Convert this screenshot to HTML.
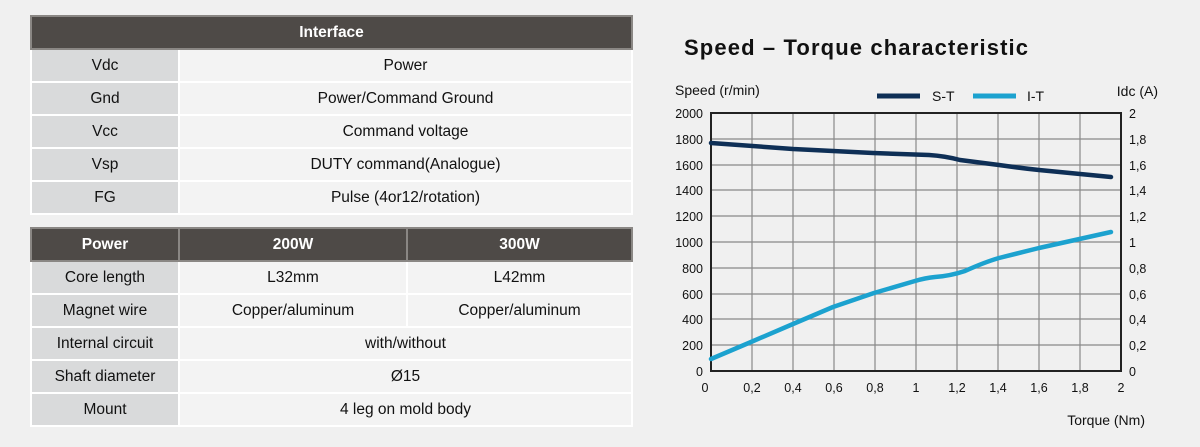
<!DOCTYPE html>
<html><head><meta charset="utf-8"><style>
body{margin:0;width:1200px;height:447px;background:#f0f0f0;font-family:"Liberation Sans",sans-serif;overflow:hidden;position:relative}
table{position:absolute;left:30px;border-collapse:collapse;width:603px;table-layout:fixed;border:1.5px solid #7a7a7a;font-size:15.5px;color:#111}
td,th{text-align:center;border:2px solid #fff;padding:0;height:31px}
th{background:#4e4a47;color:#fff;font-weight:bold;border-color:#8a8784}
td.l{background:#d9dadb}
td.v{background:#f3f3f3}
</style></head><body>
<table style="top:15px">
<colgroup><col style="width:148px"><col></colgroup>
<tr><th colspan="2" style="height:31px">Interface</th></tr>
<tr><td class="l">Vdc</td><td class="v">Power</td></tr>
<tr><td class="l">Gnd</td><td class="v">Power/Command Ground</td></tr>
<tr><td class="l">Vcc</td><td class="v">Command voltage</td></tr>
<tr><td class="l">Vsp</td><td class="v">DUTY command(Analogue)</td></tr>
<tr><td class="l">FG</td><td class="v">Pulse (4or12/rotation)</td></tr>
</table>
<table style="top:227px">
<colgroup><col style="width:148px"><col style="width:228px"><col></colgroup>
<tr><th>Power</th><th>200W</th><th>300W</th></tr>
<tr><td class="l">Core length</td><td class="v">L32mm</td><td class="v">L42mm</td></tr>
<tr><td class="l">Magnet wire</td><td class="v">Copper/aluminum</td><td class="v">Copper/aluminum</td></tr>
<tr><td class="l">Internal circuit</td><td class="v" colspan="2">with/without</td></tr>
<tr><td class="l">Shaft diameter</td><td class="v" colspan="2">Ø15</td></tr>
<tr><td class="l">Mount</td><td class="v" colspan="2">4 leg on mold body</td></tr>
</table>
<svg width="1200" height="447" style="position:absolute;left:0;top:0" font-family="Liberation Sans, sans-serif">
<text x="684" y="55" font-size="22" font-weight="bold" fill="#111" textLength="344" lengthAdjust="spacing">Speed – Torque characteristic</text>
<text x="675" y="95" font-size="14" fill="#111">Speed (r/min)</text>
<text x="1158" y="96" font-size="14" fill="#111" text-anchor="end">Idc (A)</text>
<line x1="877" y1="96" x2="920" y2="96" stroke="#0e2f56" stroke-width="5"/>
<text x="932" y="101" font-size="14" fill="#111">S-T</text>
<line x1="973" y1="96" x2="1016" y2="96" stroke="#1ca2cf" stroke-width="5"/>
<text x="1027" y="101" font-size="14" fill="#111">I-T</text>
<g stroke="#888" stroke-width="1.2">
<line x1="752" y1="113" x2="752" y2="371"/><line x1="793" y1="113" x2="793" y2="371"/><line x1="834" y1="113" x2="834" y2="371"/><line x1="875" y1="113" x2="875" y2="371"/><line x1="916" y1="113" x2="916" y2="371"/><line x1="957" y1="113" x2="957" y2="371"/><line x1="998" y1="113" x2="998" y2="371"/><line x1="1039" y1="113" x2="1039" y2="371"/><line x1="1080" y1="113" x2="1080" y2="371"/>
<line x1="711" y1="139" x2="1121" y2="139"/><line x1="711" y1="165" x2="1121" y2="165"/><line x1="711" y1="190" x2="1121" y2="190"/><line x1="711" y1="216" x2="1121" y2="216"/><line x1="711" y1="242" x2="1121" y2="242"/><line x1="711" y1="268" x2="1121" y2="268"/><line x1="711" y1="294" x2="1121" y2="294"/><line x1="711" y1="319" x2="1121" y2="319"/><line x1="711" y1="345" x2="1121" y2="345"/>
</g>
<rect x="711" y="113" width="410" height="258" fill="none" stroke="#222" stroke-width="2"/>
<g font-size="12.5" fill="#111" text-anchor="end">
<text x="703" y="118">2000</text><text x="703" y="144">1800</text><text x="703" y="170">1600</text><text x="703" y="195">1400</text><text x="703" y="221">1200</text><text x="703" y="247">1000</text><text x="703" y="273">800</text><text x="703" y="299">600</text><text x="703" y="324">400</text><text x="703" y="350">200</text><text x="703" y="376">0</text>
</g>
<g font-size="12.5" fill="#111">
<text x="1129" y="118">2</text><text x="1129" y="144">1,8</text><text x="1129" y="170">1,6</text><text x="1129" y="195">1,4</text><text x="1129" y="221">1,2</text><text x="1129" y="247">1</text><text x="1129" y="273">0,8</text><text x="1129" y="299">0,6</text><text x="1129" y="324">0,4</text><text x="1129" y="350">0,2</text><text x="1129" y="376">0</text>
</g>
<g font-size="12.5" fill="#111" text-anchor="middle">
<text x="705" y="392">0</text><text x="752" y="392">0,2</text><text x="793" y="392">0,4</text><text x="834" y="392">0,6</text><text x="875" y="392">0,8</text><text x="916" y="392">1</text><text x="957" y="392">1,2</text><text x="998" y="392">1,4</text><text x="1039" y="392">1,6</text><text x="1080" y="392">1,8</text><text x="1121" y="392">2</text>
</g>
<text x="1145" y="425" font-size="14" fill="#111" text-anchor="end">Torque (Nm)</text>
<path d="M711,143 L793,149 L873,153 L929,155 Q945,156 960,160 L999,165 Q1020,168 1039,170 L1111,177" fill="none" stroke="#0e2f56" stroke-width="4.5" stroke-linecap="round" stroke-linejoin="round"/>
<path d="M711,359 L751,342 L793,324 L833,307 L874,293 L915,281 Q925,278 935,277 Q950,276 965,271 Q985,262 999,258 L1039,248 L1111,232" fill="none" stroke="#1ca2cf" stroke-width="4.5" stroke-linecap="round" stroke-linejoin="round"/>
</svg>
</body></html>
